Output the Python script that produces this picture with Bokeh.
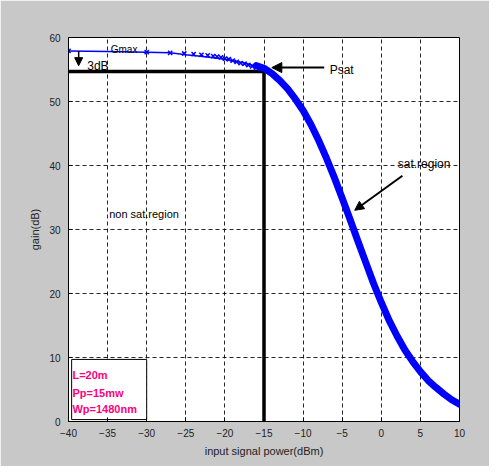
from bokeh.plotting import figure
from bokeh.models import Arrow, NormalHead, Range1d, Label
from bokeh.embed import file_html
from bokeh.resources import INLINE

# ---- data ----
x_ticks = [-40, -35, -30, -25, -20, -15, -10, -5, 0, 5, 10]
y_ticks = [0, 10, 20, 30, 40, 50, 60]

curve_x = [-40, -35, -30, -27, -25, -22.5, -20, -17.5, -15, -14, -13, -12, -11, -10, -9, -8,
           -7, -6, -5, -4, -3, -2, -1, 0, 1, 2, 3, 4, 5, 6, 7, 8, 9, 10]
curve_y = [57.9, 57.8, 57.7, 57.6, 57.3, 57.0, 56.6, 56.0, 55.2, 54.4, 53.3, 52.0, 50.4, 48.6,
           46.4, 43.9, 41.1, 38.1, 34.9, 31.6, 28.2, 24.9, 21.6, 18.6, 15.8, 13.4, 11.2, 9.4,
           7.8, 6.4, 5.3, 4.3, 3.4, 2.7]

thick_x = [-16, -15, -14, -13, -12, -11, -10, -9, -8, -7, -6, -5, -4, -3, -2, -1, 0, 1, 2, 3,
           4, 5, 6, 7, 8, 9, 10]
thick_y = [55.6, 55.2, 54.4, 53.3, 52.0, 50.4, 48.6, 46.4, 43.9, 41.1, 38.1, 34.9, 31.6, 28.2,
           24.9, 21.6, 18.6, 15.8, 13.4, 11.2, 9.4, 7.8, 6.4, 5.3, 4.3, 3.4, 2.7]

marker_x = [-40, -30, -27, -25.2, -24, -23, -22.2, -21.5, -21, -20.5, -20, -19.5, -19,
            -18.5, -18, -17.5, -17, -16.5, -16, -15.5]
marker_y = [57.9, 57.7, 57.6, 57.5, 57.4, 57.3, 57.2, 57.1, 57.0, 56.9, 56.7, 56.6, 56.4,
            56.2, 56.0, 55.9, 55.7, 55.5, 55.3, 55.1]

psat_x = -15
gsat = 54.7
gmax = 57.9

legend_lines = ["L=20m", "Pp=15mw", "Wp=1480nm"]
legend_y = [7.2, 4.5, 1.9]

FONT = "Liberation Sans"

p = figure(width=489, height=466, output_backend="svg", toolbar_location=None,
           x_range=Range1d(-40, 10), y_range=Range1d(0, 60),
           min_border_left=68, min_border_right=30, min_border_top=37, min_border_bottom=45)
p.border_fill_color = "#c8c8c8"
p.background_fill_color = "white"
p.outline_line_color = "black"
p.outline_line_width = 1

for ax in (p.xaxis, p.yaxis):
    ax.major_tick_in = 4
    ax.major_tick_out = 0
    ax.minor_tick_in = 0
    ax.minor_tick_out = 0
    ax.axis_line_color = "black"
    ax.major_label_text_font = FONT
    ax.major_label_text_font_size = "10px"
    ax.major_label_text_color = "#222222"
    ax.axis_label_text_font = FONT
    ax.axis_label_text_font_size = "11px"
    ax.axis_label_text_font_style = "normal"
    ax.axis_label_text_color = "#222222"
p.xaxis.ticker = x_ticks
p.yaxis.ticker = y_ticks
p.xaxis.axis_label = "input signal power(dBm)"
p.yaxis.axis_label = "gain(dB)"
p.xaxis.major_label_standoff = 7
p.yaxis.major_label_standoff = 8

p.xgrid.grid_line_color = "black"
p.ygrid.grid_line_color = "black"
p.xgrid.grid_line_dash = "4 3"
p.ygrid.grid_line_dash = "4 3"
p.xgrid.grid_line_alpha = 0.85
p.ygrid.grid_line_alpha = 0.85

# black saturation lines
p.line([-40, psat_x], [gsat, gsat], line_color="black", line_width=3.5)
p.line([psat_x, psat_x], [0, gsat], line_color="black", line_width=3.5)

# blue curve
p.line(curve_x, curve_y, line_color="blue", line_width=1.5)
p.line(thick_x, thick_y, line_color="blue", line_width=7, line_join="round", line_cap="round")
p.scatter(marker_x, marker_y, marker="x", size=6, line_color="blue", line_width=1.5)

# arrows
p.add_layout(Arrow(end=NormalHead(size=8, fill_color="black", line_color="black"),
                   x_start=-38.7, y_start=gmax, x_end=-38.7, y_end=55.6,
                   line_color="black", line_width=1.5))
p.add_layout(Arrow(end=NormalHead(size=10, fill_color="black", line_color="black"),
                   x_start=-7.3, y_start=55.3, x_end=-14.0, y_end=55.3,
                   line_color="black", line_width=2))
p.add_layout(Arrow(end=NormalHead(size=9, fill_color="black", line_color="black"),
                   x_start=2.7, y_start=38.4, x_end=-3.4, y_end=33.0,
                   line_color="black", line_width=2))

def lab(x, y, t, size="11px", color="black", style="normal", align="left"):
    p.add_layout(Label(x=x, y=y, text=t, text_font=FONT,
                       text_font_size=size, text_color=color, text_font_style=style,
                       text_align=align, text_baseline="alphabetic"))

lab(-34.6, 58.1, "Gmax", "10px")
lab(-37.6, 55.5, "3dB", "12px")
lab(-6.6, 54.9, "Psat", "12px")
lab(2.1, 40.2, "sat.region", "12px")
lab(-34.8, 32.5, "non sat.region", "11px")

# parameter box
p.quad(left=-39.6, right=-30.0, bottom=0.3, top=9.7, fill_color="white",
       line_color="black", line_width=1)
for t, yy in zip(legend_lines, legend_y):
    lab(-39.5, yy, t, "11px", "#ff0080", "bold")

open("out.html", "w").write(file_html(p, INLINE))
